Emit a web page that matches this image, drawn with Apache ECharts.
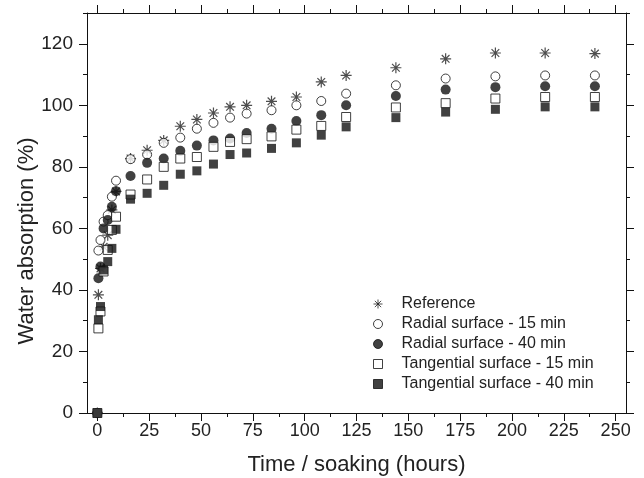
<!DOCTYPE html>
<html lang="en">
  <head>
    <meta charset="UTF-8" />
    <title>Water absorption</title>
    <script src="https://cdn.jsdelivr.net/npm/echarts@6.0.0/dist/echarts.min.js"></script>
    <style>
      * {
        margin: 0;
        padding: 0;
      }
    </style>
  </head>
  <body>
    <div id="charts" style="width: 644px; height: 478px"></div>
    <script>
      // soaking times (hours)
      var hours = [0, 0.5, 1.5, 3, 5, 7, 9, 16, 24, 32, 40, 48, 56, 64, 72, 84, 96, 108, 120, 144, 168, 192, 216, 240];

      var reference = [0, 38.4, 47, 54, 57.8, 66, 72, 82.7, 85.4, 88.6, 93.2, 95.4, 97.5, 99.5, 100.0, 101.3, 102.7, 107.6, 109.7, 112.2, 115.1, 117.0, 117.0, 116.8];
      var radial15 = [0, 52.8, 56.2, 62.2, 64.3, 70.3, 75.5, 82.5, 84.0, 87.8, 89.5, 92.4, 94.3, 96.0, 97.3, 98.4, 100.0, 101.4, 103.8, 106.5, 108.7, 109.4, 109.7, 109.7];
      var radial40 = [0, 43.8, 47.6, 60.0, 62.7, 67.0, 72.1, 77.0, 81.3, 82.7, 85.2, 86.9, 88.6, 89.2, 91.0, 92.4, 94.9, 96.8, 100.0, 103.0, 105.1, 105.9, 106.2, 106.2];
      var tangential15 = [0, 27.5, 33, 46, 53, 59.5, 63.8, 71.0, 75.9, 80.0, 82.7, 83.2, 86.5, 88.1, 89.0, 89.9, 92.1, 93.3, 96.2, 99.3, 100.7, 102.2, 102.7, 102.7];
      var tangential40 = [0, 30.3, 34.6, 46.5, 49.2, 53.5, 59.7, 69.5, 71.4, 74.0, 77.6, 78.7, 80.9, 84.0, 84.5, 86.0, 87.8, 90.3, 93.0, 96.0, 97.8, 98.7, 99.5, 99.5];

      var seriesNames = [
        "Reference",
        "Radial surface - 15 min",
        "Radial surface - 40 min",
        "Tangential surface - 15 min",
        "Tangential surface - 40 min",
      ];

      // tick values
      var xTicks = [0, 25, 50, 75, 100, 125, 150, 175, 200, 225, 250];
      var xMinorTicks = [12.5, 37.5, 62.5, 87.5, 112.5, 137.5, 162.5, 187.5, 212.5, 237.5];
      var yTicks = [0, 20, 40, 60, 80, 100, 120];
      var yMinorTicks = [10, 30, 50, 70, 90, 110, 130];

      function pairs(values) {
        return hours.map(function (h, i) {
          return [h, values[i]];
        });
      }

      var ink = "#111";
      var font = "Liberation Sans";
      var starPath = "path://M5,0L5,10M0,5L10,5M1.5,1.5L8.5,8.5M8.5,1.5L1.5,8.5";

      function xAx(pos, ticks, len, main) {
        return {
          type: "value",
          position: pos,
          min: -5,
          max: 255,
          axisLine: { show: main, onZero: false, lineStyle: { color: ink, width: 1 } },
          axisTick: { show: true, customValues: ticks, length: len, lineStyle: { color: ink, width: 1 } },
          axisLabel: main && pos == "bottom"
            ? { show: true, customValues: xTicks, margin: 9, color: "#222", fontSize: 18, fontFamily: font }
            : { show: false },
          splitLine: { show: false },
          name: main && pos == "bottom" ? "Time / soaking (hours)" : "",
          nameLocation: "middle",
          nameGap: 41,
          nameMoveOverlap: false,
          nameTextStyle: { color: "#222", fontSize: 22, fontFamily: font },
        };
      }

      function yAx(pos, ticks, len, main) {
        return {
          type: "value",
          position: pos,
          min: 0,
          max: 130,
          axisLine: { show: main, onZero: false, lineStyle: { color: ink, width: 1 } },
          axisTick: { show: true, customValues: ticks, length: len, lineStyle: { color: ink, width: 1 } },
          axisLabel: main && pos == "left"
            ? { show: true, customValues: yTicks, margin: 14, color: "#222", fontSize: 19, fontFamily: font }
            : { show: false },
          splitLine: { show: false },
          name: main && pos == "left" ? "Water absorption (%)" : "",
          nameLocation: "middle",
          nameGap: 49,
          nameMoveOverlap: false,
          nameTextStyle: { color: "#222", fontSize: 22, fontFamily: font, padding: [0, 56, 0, 0] },
        };
      }

      var myEcharts = echarts.init(document.getElementById("charts"));
      var options = {
        animation: false,
        backgroundColor: "#fff",
        grid: { left: 87, right: 18, top: 13, bottom: 65, outerBoundsMode: "none" },
        legend: {
          orient: "vertical",
          left: 373,
          top: 296,
          padding: 0,
          itemGap: 4,
          itemWidth: 9,
          itemHeight: 9,
          itemStyle: { borderWidth: 1 },
          textStyle: { color: "#222", fontSize: 16, fontFamily: font, lineHeight: 16, padding: [0, 0, 0, 14] },
          data: seriesNames,
        },
        xAxis: [
          xAx("bottom", xTicks, 8, true),
          xAx("bottom", xMinorTicks, 4, false),
          xAx("top", xTicks, 8, true),
          xAx("top", xMinorTicks, 4, false),
        ],
        yAxis: [
          yAx("left", yTicks, 8, true),
          yAx("left", yMinorTicks, 4, false),
          yAx("right", yTicks, 8, true),
          yAx("right", yMinorTicks, 4, false),
        ],
        series: [
          {
            name: seriesNames[0],
            type: "scatter",
            clip: false,
            symbol: starPath,
            symbolSize: 11,
            itemStyle: { color: "#222", borderColor: "#222", borderWidth: 1.2 },
            data: pairs(reference),
          },
          {
            name: seriesNames[1],
            type: "scatter",
            clip: false,
            symbol: "circle",
            symbolSize: 9,
            itemStyle: { color: "#fff", borderColor: ink, borderWidth: 1 },
            data: pairs(radial15),
          },
          {
            name: seriesNames[2],
            type: "scatter",
            clip: false,
            symbol: "circle",
            symbolSize: 10,
            itemStyle: { color: ink, borderColor: ink, borderWidth: 0 },
            data: pairs(radial40),
          },
          {
            name: seriesNames[3],
            type: "scatter",
            clip: false,
            symbol: "rect",
            symbolSize: 9,
            itemStyle: { color: "#fff", borderColor: ink, borderWidth: 1 },
            data: pairs(tangential15),
          },
          {
            name: seriesNames[4],
            type: "scatter",
            clip: false,
            symbol: "rect",
            symbolSize: 9,
            itemStyle: { color: ink, borderColor: ink, borderWidth: 0 },
            data: pairs(tangential40),
          },
        ],
      };
      myEcharts.setOption(options);
    </script>
  </body>
</html>
